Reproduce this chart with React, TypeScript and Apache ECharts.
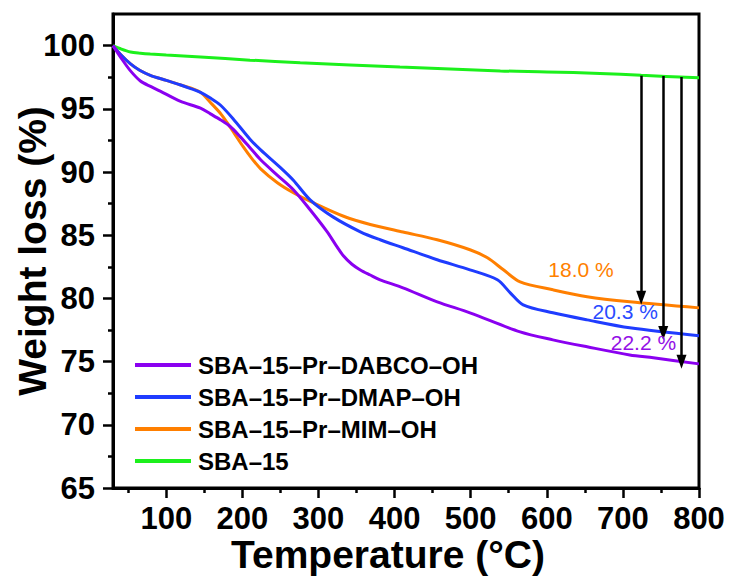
import React, { useEffect, useRef } from "react";
import * as echarts from "echarts";

// Thermogravimetric curves: temperature (°C) vs remaining weight (%)
const seriesNames = [
  "SBA–15–Pr–DABCO–OH",
  "SBA–15–Pr–DMAP–OH",
  "SBA–15–Pr–MIM–OH",
  "SBA–15",
];
const seriesColors = ["#8a00f0", "#1f3cff", "#ff7f00", "#1cf01c"];

const dabcoTemp = [30, 42, 53, 66, 80, 92, 118, 145, 158, 171, 184, 197, 210, 224, 245, 267, 289, 311, 322, 333, 344, 355, 368, 381, 411, 456, 499, 565, 608, 653, 709, 740, 800];
const dabcoWeight = [100, 98.9, 98.0, 97.2, 96.75, 96.4, 95.6, 95.05, 94.6, 94.14, 93.6, 92.8, 91.92, 90.97, 89.8, 88.6, 87.01, 85.3, 84.3, 83.35, 82.7, 82.25, 81.85, 81.47, 80.84, 79.73, 78.86, 77.35, 76.72, 76.17, 75.53, 75.3, 74.82];

const dmapTemp = [30, 40, 53, 65, 79, 100, 118, 132, 145, 158, 171, 188, 210, 224, 250, 267, 289, 319, 355, 381, 411, 456, 499, 535, 552, 569, 608, 653, 709, 800];
const dmapWeight = [100, 99.3, 98.55, 98.05, 97.65, 97.25, 96.9, 96.6, 96.3, 95.85, 95.3, 94.2, 92.6, 91.75, 90.35, 89.35, 87.8, 86.45, 85.27, 84.64, 84.01, 83.06, 82.26, 81.47, 80.44, 79.49, 78.86, 78.3, 77.67, 77.04];

const mimTemp = [30, 40, 53, 65, 79, 100, 118, 132, 145, 158, 171, 180, 190, 201, 212, 224, 246, 267, 293, 333, 368, 411, 456, 499, 522, 543, 565, 608, 653, 709, 800];
const mimWeight = [100, 99.3, 98.55, 98.05, 97.65, 97.25, 96.9, 96.65, 96.3, 95.5, 94.65, 93.9, 93.0, 92.0, 91.1, 90.25, 89.15, 88.36, 87.57, 86.5, 85.85, 85.25, 84.64, 83.85, 83.21, 82.26, 81.31, 80.68, 80.13, 79.73, 79.25];

const sbaTemp = [30, 40, 53, 66, 79, 100, 145, 210, 276, 407, 539, 600, 670, 724, 800];
const sbaWeight = [100, 99.75, 99.5, 99.4, 99.33, 99.25, 99.1, 98.85, 98.65, 98.3, 98.0, 97.92, 97.8, 97.65, 97.45];

// Mass-loss arrows drawn from the SBA–15 curve down to each functionalised sample
const arrowTemp = [724, 753, 777];
const arrowFrom = [97.62, 97.6, 97.52];
const arrowTo = [80.05, 77.27, 74.98];

// Mass-loss annotations
const lossText = ["18.0 %", "20.3 %", "22.2 %"];
const lossTemp = [645, 703, 727];
const lossWeight = [82.26, 78.94, 76.5];
const lossColors = ["#ff8000", "#2a4bff", "#9410e6"];

const xMajor = [100, 200, 300, 400, 500, 600, 700, 800];
const xMinor = [50, 150, 250, 350, 450, 550, 650, 750];
const yMajor = [65, 70, 75, 80, 85, 90, 95, 100];
const yMinor = [67.5, 72.5, 77.5, 82.5, 87.5, 92.5, 97.5];

const FONT = "'Liberation Sans', Arial, Helvetica, sans-serif";

const pairs = (xs: number[], ys: number[]) => xs.map((x, i) => [x, ys[i]]);

function lossLabel(i: number) {
  return {
    symbol: "circle",
    symbolSize: 0,
    silent: true,
    label: {
      show: true,
      position: "inside",
      formatter: "{b}",
      color: lossColors[i],
      fontSize: 21,
      fontFamily: FONT,
    },
    data: [{ name: lossText[i], coord: [lossTemp[i], lossWeight[i]] }],
  };
}

export default function App() {
  const ref = useRef<HTMLDivElement>(null);

  useEffect(() => {
    if (!ref.current) return;
    const chart = echarts.init(ref.current, undefined, { renderer: "svg" });

    const lineSeries = (name: string, color: string, data: number[][], extra: any = {}) => ({
      type: "line",
      name,
      data,
      showSymbol: false,
      symbol: "none",
      smooth: 0.3,
      lineStyle: { color, width: 3 },
      itemStyle: { color },
      z: 3,
      ...extra,
    });

    const minorTickAxis = (values: number[]) => ({
      axisLine: { show: false },
      axisLabel: { show: false },
      splitLine: { show: false },
      axisTick: {
        show: true,
        length: 5,
        customValues: values,
        lineStyle: { color: "#000", width: 2.5 },
      },
    });

    chart.setOption({
      animation: false,
      backgroundColor: "#fff",
      textStyle: { fontFamily: FONT },
      grid: {
        left: 113,
        top: 14,
        width: 586,
        height: 474,
        show: true,
        borderColor: "#000",
        borderWidth: 3,
        backgroundColor: "transparent",
        outerBoundsMode: "none",
        containLabel: false,
      },
      legend: {
        orient: "vertical",
        left: 130,
        top: 348,
        icon: "rect",
        itemWidth: 56,
        itemHeight: 4,
        itemGap: 8,
        data: seriesNames,
        textStyle: {
          fontSize: 24,
          fontWeight: "bold",
          color: "#000",
          lineHeight: 24,
          fontFamily: FONT,
          padding: [0, 0, 0, 2],
        },
      },
      xAxis: [
        {
          type: "value",
          min: 30,
          max: 800,
          name: "Temperature (°C)",
          nameLocation: "middle",
          nameGap: 47,
          nameMoveOverlap: false,
          nameTextStyle: {
            fontSize: 39,
            fontWeight: "bold",
            color: "#000",
            fontFamily: FONT,
            padding: [0, 36, 0, 0],
          },
          axisLine: { show: true, lineStyle: { color: "#000", width: 3 } },
          axisTick: {
            show: true,
            length: 10,
            customValues: xMajor,
            lineStyle: { color: "#000", width: 2.5 },
          },
          axisLabel: {
            customValues: xMajor,
            fontSize: 31,
            fontWeight: "bold",
            color: "#000",
            margin: 15,
            fontFamily: FONT,
          },
          splitLine: { show: false },
        },
        {
          type: "value",
          min: 30,
          max: 800,
          position: "bottom",
          ...minorTickAxis(xMinor),
        },
      ],
      yAxis: [
        {
          type: "value",
          min: 65,
          max: 102.5,
          name: "Weight loss (%)",
          nameLocation: "middle",
          nameGap: 61,
          nameMoveOverlap: false,
          nameTextStyle: {
            fontSize: 39,
            fontWeight: "bold",
            color: "#000",
            fontFamily: FONT,
          },
          axisLine: { show: true, lineStyle: { color: "#000", width: 3 } },
          axisTick: {
            show: true,
            length: 10,
            customValues: yMajor,
            lineStyle: { color: "#000", width: 2.5 },
          },
          axisLabel: {
            customValues: yMajor,
            fontSize: 31,
            fontWeight: "bold",
            color: "#000",
            margin: 18,
            fontFamily: FONT,
          },
          splitLine: { show: false },
        },
        {
          type: "value",
          min: 65,
          max: 102.5,
          position: "left",
          ...minorTickAxis(yMinor),
        },
      ],
      series: [
        lineSeries(seriesNames[3], seriesColors[3], pairs(sbaTemp, sbaWeight), {
          markLine: {
            silent: true,
            symbol: ["none", "triangle"],
            symbolSize: [10, 14],
            label: { show: false },
            lineStyle: { color: "#000", width: 2.5, type: "solid" },
            emphasis: { disabled: true },
            data: arrowTemp.map((t, i) => [
              { coord: [t, arrowFrom[i]] },
              { coord: [t, arrowTo[i]] },
            ]),
          },
        }),
        lineSeries(seriesNames[2], seriesColors[2], pairs(mimTemp, mimWeight), {
          markPoint: lossLabel(0),
        }),
        lineSeries(seriesNames[1], seriesColors[1], pairs(dmapTemp, dmapWeight), {
          markPoint: lossLabel(1),
        }),
        lineSeries(seriesNames[0], seriesColors[0], pairs(dabcoTemp, dabcoWeight), {
          markPoint: lossLabel(2),
        }),
      ],
    });

    return () => chart.dispose();
  }, []);

  return (
    <div
      ref={ref}
      style={{ position: "fixed", left: 0, top: 0, width: 732, height: 581, background: "#fff" }}
    />
  );
}
